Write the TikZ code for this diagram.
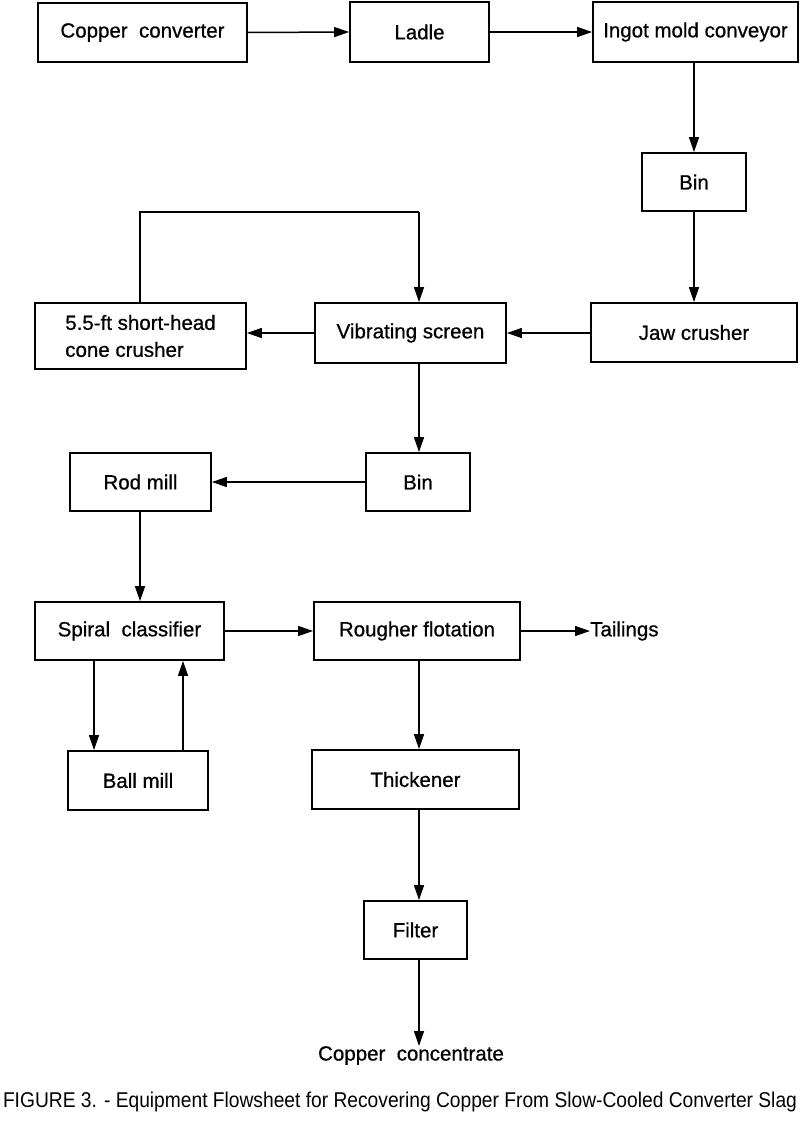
\documentclass[tikz,border=0pt]{standalone}
\usepackage{fontspec}
\setmainfont{Liberation Sans}
\newfontfamily\boxfont[FakeBold=0.7]{Liberation Sans}
\usetikzlibrary{arrows.meta}
\begin{document}
\begin{tikzpicture}[x=1pt,y=-1pt,
  box/.style={draw,line width=1.8pt,rectangle,inner sep=0pt,anchor=center,
    font=\boxfont\fontsize{20.5}{27}\selectfont},
  flow/.style={line width=1.5pt,-{Triangle[length=15pt,width=10pt]}},
  plain/.style={line width=1.5pt},
  lbl/.style={inner sep=0pt,font=\boxfont\fontsize{20.5}{27}\selectfont}]
\useasboundingbox (0,0) rectangle (800,1122);
\node[box,minimum width=209pt,minimum height=59pt] (conv) at (142.5,32.5) {Copper\ \ converter};
\node[box,minimum width=139pt,minimum height=60pt] (ladle) at (419.5,32) {Ladle};
\node[box,minimum width=205pt,minimum height=60pt] (ingot) at (695.5,32) {Ingot mold conveyor};
\node[box,minimum width=104pt,minimum height=58pt] (bin1) at (694,182) {Bin};
\node[box,minimum width=206pt,minimum height=59pt] (jaw) at (694,332.5) {Jaw crusher};
\node[box,minimum width=191pt,minimum height=60pt] (vib) at (410.5,333) {Vibrating screen};
\node[box,minimum width=211pt,minimum height=66pt,align=left] (cone) at (140.5,336) {5.5-ft short-head\\cone crusher};
\node[box,minimum width=104pt,minimum height=58pt] (bin2) at (418,482) {Bin};
\node[box,minimum width=141pt,minimum height=58pt] (rod) at (140.5,482) {Rod mill};
\node[box,minimum width=189pt,minimum height=58pt] (spiral) at (129.5,631) {Spiral\ \ classifier};
\node[box,minimum width=206pt,minimum height=58pt] (rough) at (417,631) {Rougher flotation};
\node[box,minimum width=140pt,minimum height=59pt] (ball) at (138,780.5) {Ball mill};
\node[box,minimum width=207pt,minimum height=59pt] (thick) at (415.5,779.5) {Thickener};
\node[box,minimum width=103pt,minimum height=58pt] (filter) at (415.5,930) {Filter};
\node[lbl,anchor=west] (tail) at (590,631) {Tailings};
\node[lbl,anchor=north] (conc) at (411,1046) {Copper\ \ concentrate};
\node[inner sep=0pt] (cap) at (400,1102) {\resizebox{794pt}{15.5pt}{FIGURE 3. - Equipment Flowsheet for Recovering Copper From Slow-Cooled Converter Slag}};
\coordinate (lp1) at (140,212);
\coordinate (lp2) at (419,212);
% connectors
\draw[flow] (conv.east) -- (ladle.west);
\draw[flow] (ladle.east) -- (ingot.west);
\draw[flow] (ingot.south -| bin1.north) -- (bin1.north);
\draw[flow] (bin1.south) -- (jaw.north -| bin1.south);
\draw[flow] (jaw.west |- vib.east) -- (vib.east);
\draw[flow] (vib.west) -- (cone.east |- vib.west);
\draw[plain] (cone.north -| lp1) -- (lp1) -- (lp2);
\draw[flow] (lp2) -- (vib.north -| lp2);
\draw[flow] (vib.south -| lp2) -- (bin2.north -| lp2);
\draw[flow] (bin2.west) -- (rod.east |- bin2.west);
\draw[flow] (rod.south -| lp1) -- (spiral.north -| lp1);
\draw[flow] (spiral.east |- rough.west) -- (rough.west);
\draw[flow] (rough.east) -- (tail.west);
\draw[flow] ([xshift=-35.5pt]spiral.south) -- ([xshift=-35.5pt]spiral.south |- ball.north);
\draw[flow] ([xshift=53.5pt]spiral.south |- ball.north) -- ([xshift=53.5pt]spiral.south);
\draw[flow] (rough.south -| lp2) -- (thick.north -| lp2);
\draw[flow] (thick.south -| lp2) -- (filter.north -| lp2);
\draw[flow] (filter.south -| lp2) -- (conc.north -| lp2);
\end{tikzpicture}
\end{document}
